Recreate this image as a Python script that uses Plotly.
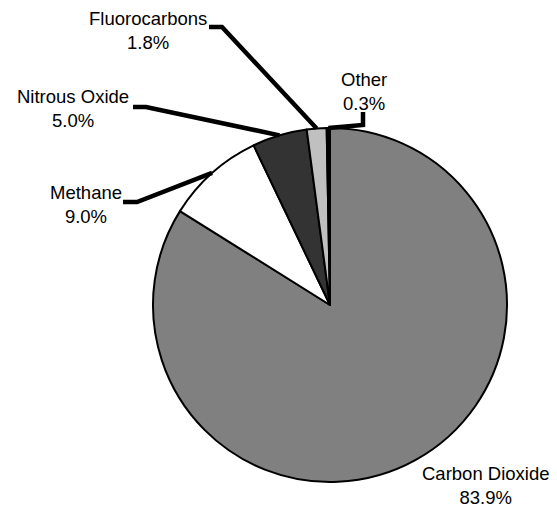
import math
import plotly.graph_objects as go

labels = ["Carbon Dioxide", "Methane", "Nitrous Oxide", "Fluorocarbons", "Other"]
values = [83.9, 9.0, 5.0, 1.8, 0.3]
colors = ["#808080", "#ffffff", "#333333", "#c0c0c0", "#000000"]

W, H = 557, 510
CX, CY, R = 330, 305, 177

# label layout (pixel positions of label block centres and leader elbows)
label_pos = {
    "Carbon Dioxide": (486, 485),
    "Methane": (86, 204),
    "Nitrous Oxide": (73, 108),
    "Fluorocarbons": (148, 30),
    "Other": (364, 91),
}
leader = {
    "Methane": [(137, 202), (123, 202)],
    "Nitrous Oxide": [(146, 107), (133, 107)],
    "Fluorocarbons": [(222, 27), (209, 27)],
    "Other": [(363, 125), (363, 112)],
}

def px(x):
    return x / W

def py(y):
    return 1 - y / H

fig = go.Figure()
fig.add_trace(go.Pie(
    labels=labels, values=values, sort=False, direction="clockwise", rotation=0,
    marker=dict(colors=colors, line=dict(color="black", width=2)),
    textinfo="none", hoverinfo="label+percent", showlegend=False,
    domain=dict(x=[px(CX - R), px(CX + R)], y=[py(CY + R), py(CY - R)]),
))

total = sum(values)
cum = 0.0
shapes = []
annotations = []
for lab, v in zip(labels, values):
    mid = (cum + v / 2) / total
    cum += v
    ang = 2 * math.pi * mid
    ex = CX + R * math.sin(ang)
    ey = CY - R * math.cos(ang)
    if lab in leader:
        pts = [(ex, ey)] + leader[lab]
        path = "M " + " L ".join(f"{px(a):.5f},{py(b):.5f}" for a, b in pts)
        shapes.append(dict(type="path", path=path, xref="paper", yref="paper",
                           line=dict(color="black", width=4.5), layer="above"))
    lx, ly = label_pos[lab]
    annotations.append(dict(
        x=px(lx), y=py(ly), xref="paper", yref="paper", showarrow=False,
        xanchor="center", yanchor="middle", borderpad=0,
        text=f"{lab}<br>{v:.1f}%",
        font=dict(family="Liberation Sans, Arial, sans-serif", size=18.5, color="black"),
    ))

fig.update_layout(
    width=W, height=H, margin=dict(l=0, r=0, t=0, b=0),
    paper_bgcolor="white", plot_bgcolor="white",
    shapes=shapes, annotations=annotations,
)
fig.write_html(
    "out.html",
    config={"displayModeBar": False},
    post_script="document.body.style.margin='0';document.body.style.padding='0';document.body.style.overflow='hidden';",
)
